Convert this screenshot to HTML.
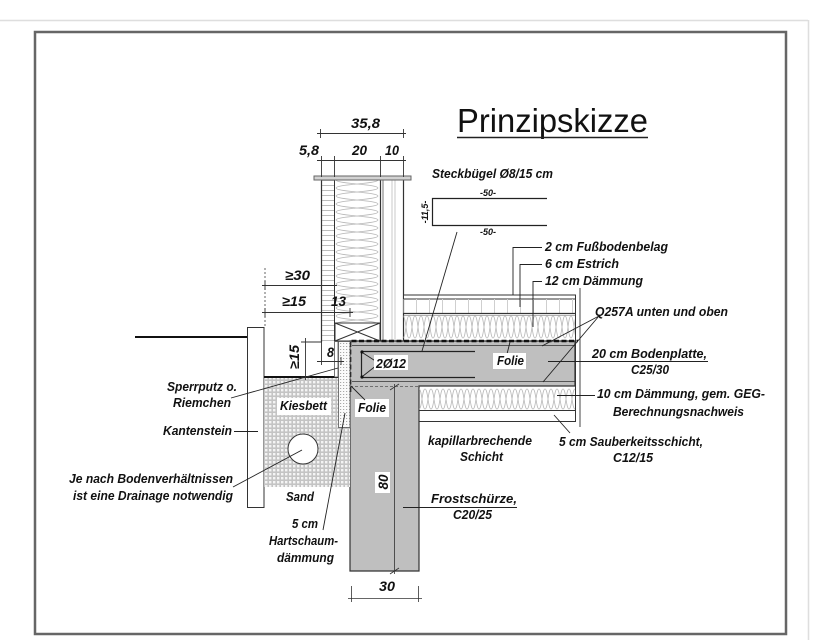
<!DOCTYPE html>
<html><head><meta charset="utf-8">
<style>
html,body{margin:0;padding:0;background:#fff;}
svg{display:block;}
text{font-family:"Liberation Sans",Arial,sans-serif;fill:#111;}
.l{font-weight:bold;font-style:italic;font-size:13px;}
.d{font-weight:bold;font-style:italic;font-size:14px;}
.s{font-weight:bold;font-style:italic;font-size:9px;}
</style></head><body>
<svg width="830" height="640" viewBox="0 0 830 640" xmlns="http://www.w3.org/2000/svg">
<defs>
 <pattern id="wins" patternUnits="userSpaceOnUse" x="334" y="180" width="46" height="16">
  <path d="M2 0 C2 4 44 4 44 8 C44 12 2 12 2 16 M44 0 C44 4 2 4 2 8 C2 12 44 12 44 16" fill="none" stroke="#b8b8b8" stroke-width="0.8"/>
 </pattern>
 <pattern id="fins1" patternUnits="userSpaceOnUse" x="403" y="315" width="12" height="24">
  <path d="M0 1 C3 1 3 23 6 23 C9 23 9 1 12 1 M0 23 C3 23 3 1 6 1 C9 1 9 23 12 23" fill="none" stroke="#b8b8b8" stroke-width="0.8"/>
 </pattern>
 <pattern id="fins2" patternUnits="userSpaceOnUse" x="419" y="388" width="12" height="22">
  <path d="M0 1 C3 1 3 21 6 21 C9 21 9 1 12 1 M0 21 C3 21 3 1 6 1 C9 1 9 21 12 21" fill="none" stroke="#b8b8b8" stroke-width="0.8"/>
 </pattern>
 <pattern id="kies" patternUnits="userSpaceOnUse" x="0" y="0" width="4" height="4">
  <rect width="4" height="4" fill="#c4c4c4"/><rect x="1" y="1" width="2.4" height="2.4" fill="#f4f4f4"/>
 </pattern>
 <pattern id="hs" patternUnits="userSpaceOnUse" x="0" y="0" width="3" height="3">
  <rect width="3" height="3" fill="#fafafa"/><rect x="1" y="1" width="1.2" height="1" fill="#a8a8a8"/>
 </pattern>
 <pattern id="estr" patternUnits="userSpaceOnUse" x="403" y="0" width="13" height="10">
  <line x1="0.5" y1="0" x2="0.5" y2="10" stroke="#cfcfcf" stroke-width="1"/>
 </pattern>
 <pattern id="brick" patternUnits="userSpaceOnUse" x="0" y="180" width="10" height="5">
  <line x1="0" y1="0.5" x2="10" y2="0.5" stroke="#bdbdbd" stroke-width="1"/>
 </pattern>
</defs>

<!-- page chrome -->
<line x1="0" y1="20.5" x2="808" y2="20.5" stroke="#dedede" stroke-width="1.5"/>
<line x1="808.5" y1="20" x2="808.5" y2="640" stroke="#dedede" stroke-width="1.5"/>
<rect x="35" y="32" width="751" height="602" fill="none" stroke="#666" stroke-width="2.5"/>

<!-- title -->
<text x="457" y="132" font-size="33" textLength="191" lengthAdjust="spacingAndGlyphs">Prinzipskizze</text>
<line x1="457" y1="137.5" x2="648" y2="137.5" stroke="#222" stroke-width="1.6"/>

<!-- WALL -->
<rect x="321" y="180" width="13" height="162" fill="url(#brick)"/>
<rect x="334" y="180" width="46" height="143" fill="url(#wins)"/>
<line x1="321.5" y1="180" x2="321.5" y2="342" stroke="#333" stroke-width="1.2"/>
<line x1="334.5" y1="180" x2="334.5" y2="341" stroke="#333" stroke-width="1"/>
<rect x="335" y="323" width="45" height="18" fill="#fff" stroke="#333" stroke-width="1"/>
<path d="M335 323 L380 341 M380 323 L335 341" stroke="#333" stroke-width="1"/>
<line x1="380.5" y1="180" x2="380.5" y2="341" stroke="#333" stroke-width="1.2"/>
<line x1="383" y1="180" x2="383" y2="341" stroke="#555" stroke-width="0.8"/>
<line x1="392" y1="180" x2="392" y2="341" stroke="#bbb" stroke-width="0.8"/>
<line x1="395" y1="180" x2="395" y2="341" stroke="#bbb" stroke-width="0.8"/>
<line x1="403.5" y1="180" x2="403.5" y2="341" stroke="#333" stroke-width="1.2"/>
<rect x="314" y="176" width="97" height="4" fill="#d2d2d2" stroke="#666" stroke-width="1"/>

<!-- FLOOR LAYERS -->
<rect x="403.5" y="295" width="172" height="4" fill="#fff" stroke="#333" stroke-width="1"/>
<rect x="403.5" y="299" width="172" height="14" fill="url(#estr)"/>
<line x1="403" y1="313.5" x2="576" y2="313.5" stroke="#333" stroke-width="1.2"/>
<rect x="403.5" y="315" width="172" height="24" fill="url(#fins1)"/>
<line x1="403" y1="315.5" x2="576" y2="315.5" stroke="#666" stroke-width="0.6"/>

<!-- SLAB + APRON -->
<path d="M350 341 H575 V386 H419 V571 H350 Z" fill="#bfbfbf" stroke="#333" stroke-width="1.2"/>
<line x1="352" y1="345.5" x2="575" y2="345.5" stroke="#333" stroke-width="0.8"/>
<line x1="352" y1="381.5" x2="575" y2="381.5" stroke="#333" stroke-width="0.8"/>
<line x1="350" y1="386.5" x2="419" y2="386.5" stroke="#555" stroke-width="0.8" stroke-dasharray="3 2"/>
<path d="M475 351.5 H361.5 V377.5 H475" fill="none" stroke="#222" stroke-width="1.2"/>
<circle cx="362" cy="352" r="1.6" fill="#111"/><circle cx="362" cy="377" r="1.6" fill="#111"/>
<path d="M363 353 L377 362 M363 376 L377 365" stroke="#222" stroke-width="0.9"/>
<rect x="374" y="355" width="34" height="15" fill="#fff"/>
<text class="l" x="376" y="368" textLength="30" lengthAdjust="spacingAndGlyphs">2Ø12</text>
<path d="M350 392 V341 H578" fill="none" stroke="#111" stroke-width="2.6" stroke-dasharray="5 2.5"/>

<!-- under slab -->
<rect x="419" y="388" width="156" height="22" fill="url(#fins2)"/>
<line x1="419" y1="410.5" x2="576" y2="410.5" stroke="#333" stroke-width="1"/>
<line x1="419" y1="421.5" x2="576" y2="421.5" stroke="#333" stroke-width="1"/>
<line x1="575.5" y1="295" x2="575.5" y2="422" stroke="#333" stroke-width="1"/>
<line x1="580" y1="288" x2="580" y2="427" stroke="#444" stroke-width="1"/>

<!-- slab folie label -->
<line x1="510" y1="342" x2="507" y2="354" stroke="#222" stroke-width="0.9"/>
<rect x="493" y="353" width="33" height="16" fill="#fff"/>
<text class="l" x="497" y="365" textLength="27" lengthAdjust="spacingAndGlyphs">Folie</text>

<!-- 80 dimension -->
<line x1="394.5" y1="384" x2="394.5" y2="574" stroke="#333" stroke-width="0.8"/>
<path d="M390 390 L399 384 M390 574 L399 568" stroke="#333" stroke-width="0.8"/>
<rect x="375" y="472" width="15" height="21" fill="#fff"/>
<text class="d" transform="translate(388,482) rotate(-90)" text-anchor="middle" textLength="15" lengthAdjust="spacingAndGlyphs">80</text>

<!-- 30 dimension -->
<line x1="348" y1="598.5" x2="422" y2="598.5" stroke="#333" stroke-width="0.8"/>
<line x1="351.5" y1="586" x2="351.5" y2="602" stroke="#333" stroke-width="0.8"/>
<line x1="418.5" y1="586" x2="418.5" y2="602" stroke="#333" stroke-width="0.8"/>
<text class="d" x="379" y="591" textLength="16" lengthAdjust="spacingAndGlyphs">30</text>

<!-- LEFT SIDE -->
<line x1="135" y1="337" x2="247" y2="337" stroke="#111" stroke-width="2"/>
<rect x="247.5" y="327.5" width="16.5" height="180" fill="#fff" stroke="#333" stroke-width="1"/>
<rect x="264" y="377" width="86" height="110" fill="url(#kies)"/>
<line x1="264" y1="377" x2="339" y2="377" stroke="#111" stroke-width="2"/>
<rect x="334.5" y="341.5" width="3.5" height="35.5" fill="#fff" stroke="#555" stroke-width="0.8"/>
<rect x="338.5" y="341.5" width="11.5" height="86" fill="url(#hs)" stroke="#555" stroke-width="0.8"/>
<circle cx="303" cy="449" r="15" fill="#fff" stroke="#333" stroke-width="1"/>
<rect x="277" y="398" width="54" height="17" fill="#fff"/>
<text class="l" x="280" y="410" textLength="47" lengthAdjust="spacingAndGlyphs">Kiesbett</text>
<rect x="355" y="399" width="34" height="18" fill="#fff"/>
<text class="l" x="358" y="412" textLength="28" lengthAdjust="spacingAndGlyphs">Folie</text>
<line x1="351" y1="386" x2="365" y2="400" stroke="#222" stroke-width="0.9"/>

<!-- leaders left -->
<line x1="231" y1="398" x2="338" y2="368" stroke="#222" stroke-width="0.9"/>
<line x1="234" y1="431.5" x2="258" y2="431.5" stroke="#222" stroke-width="0.9"/>
<line x1="233" y1="487" x2="302" y2="450" stroke="#222" stroke-width="0.9"/>
<line x1="323" y1="530" x2="345" y2="413" stroke="#222" stroke-width="0.9"/>

<!-- left labels -->
<text class="l" x="167" y="391" textLength="70" lengthAdjust="spacingAndGlyphs">Sperrputz o.</text>
<text class="l" x="173" y="407" textLength="58" lengthAdjust="spacingAndGlyphs">Riemchen</text>
<text class="l" x="163" y="435" textLength="69" lengthAdjust="spacingAndGlyphs">Kantenstein</text>
<text class="l" x="69" y="483" textLength="164" lengthAdjust="spacingAndGlyphs">Je nach Bodenverhältnissen</text>
<text class="l" x="73" y="500" textLength="160" lengthAdjust="spacingAndGlyphs">ist eine Drainage notwendig</text>
<text class="l" x="286" y="501" textLength="28" lengthAdjust="spacingAndGlyphs">Sand</text>
<text class="l" x="292" y="528" textLength="26" lengthAdjust="spacingAndGlyphs">5 cm</text>
<text class="l" x="269" y="545" textLength="69" lengthAdjust="spacingAndGlyphs">Hartschaum-</text>
<text class="l" x="277" y="562" textLength="57" lengthAdjust="spacingAndGlyphs">dämmung</text>

<!-- TOP DIMENSIONS -->
<line x1="317" y1="133.5" x2="406" y2="133.5" stroke="#333" stroke-width="0.9"/>
<line x1="320.5" y1="129" x2="320.5" y2="138" stroke="#333" stroke-width="0.9"/>
<line x1="403.5" y1="129" x2="403.5" y2="138" stroke="#333" stroke-width="0.9"/>
<text class="d" x="351" y="128" textLength="29" lengthAdjust="spacingAndGlyphs">35,8</text>
<line x1="317" y1="160.5" x2="406" y2="160.5" stroke="#333" stroke-width="0.9"/>
<line x1="321.5" y1="156" x2="321.5" y2="177" stroke="#333" stroke-width="0.9"/>
<line x1="334.5" y1="156" x2="334.5" y2="177" stroke="#333" stroke-width="0.9"/>
<line x1="380.5" y1="156" x2="380.5" y2="177" stroke="#333" stroke-width="0.9"/>
<line x1="403.5" y1="156" x2="403.5" y2="177" stroke="#333" stroke-width="0.9"/>
<text class="d" x="299" y="155" textLength="20" lengthAdjust="spacingAndGlyphs">5,8</text>
<text class="d" x="352" y="155" textLength="15" lengthAdjust="spacingAndGlyphs">20</text>
<text class="d" x="385" y="155" textLength="14" lengthAdjust="spacingAndGlyphs">10</text>

<!-- left dimensions -->
<line x1="265" y1="268" x2="265" y2="327" stroke="#555" stroke-width="0.9" stroke-dasharray="2 2"/>
<line x1="262" y1="285.5" x2="337" y2="285.5" stroke="#333" stroke-width="0.9"/>
<line x1="265" y1="281" x2="265" y2="290" stroke="#333" stroke-width="0.9"/>
<line x1="334.5" y1="281" x2="334.5" y2="290" stroke="#333" stroke-width="0.9"/>
<text class="d" x="285" y="280" textLength="25" lengthAdjust="spacingAndGlyphs">≥30</text>
<line x1="262" y1="312.5" x2="353" y2="312.5" stroke="#333" stroke-width="0.9"/>
<line x1="265" y1="308" x2="265" y2="317" stroke="#333" stroke-width="0.9"/>
<line x1="321.5" y1="308" x2="321.5" y2="317" stroke="#333" stroke-width="0.9"/>
<line x1="350" y1="308" x2="350" y2="317" stroke="#333" stroke-width="0.9"/>
<text class="d" x="282" y="306" textLength="24" lengthAdjust="spacingAndGlyphs">≥15</text>
<text class="d" x="331" y="306" textLength="15" lengthAdjust="spacingAndGlyphs">13</text>
<line x1="301" y1="342" x2="322" y2="342" stroke="#333" stroke-width="0.9"/>
<line x1="305.5" y1="338" x2="305.5" y2="380" stroke="#333" stroke-width="0.9"/>
<line x1="301" y1="377" x2="310" y2="377" stroke="#333" stroke-width="0.9"/>
<text class="d" transform="translate(299,357) rotate(-90)" text-anchor="middle" textLength="24" lengthAdjust="spacingAndGlyphs">≥15</text>
<line x1="317" y1="361.5" x2="344" y2="361.5" stroke="#333" stroke-width="0.9"/>
<line x1="321.5" y1="342" x2="321.5" y2="365" stroke="#333" stroke-width="0.9"/>
<line x1="341" y1="357" x2="341" y2="365" stroke="#333" stroke-width="0.9"/>
<text class="d" x="327" y="357" textLength="7" lengthAdjust="spacingAndGlyphs">8</text>

<!-- STECKBÜGEL -->
<text class="l" x="432" y="178" textLength="121" lengthAdjust="spacingAndGlyphs">Steckbügel Ø8/15 cm</text>
<path d="M547 198.5 H432.5 V225.5 H547" fill="none" stroke="#222" stroke-width="1.2"/>
<text class="s" x="488" y="196" text-anchor="middle">-50-</text>
<text class="s" x="488" y="235" text-anchor="middle">-50-</text>
<text class="s" transform="translate(428,212) rotate(-90)" text-anchor="middle">-11,5-</text>
<line x1="457" y1="232" x2="422" y2="351" stroke="#222" stroke-width="0.9"/>

<!-- right leaders -->
<path d="M513 295 V247.5 H542" fill="none" stroke="#222" stroke-width="0.9"/>
<path d="M520 307 V264.5 H542" fill="none" stroke="#222" stroke-width="0.9"/>
<path d="M533 327 V281.5 H542" fill="none" stroke="#222" stroke-width="0.9"/>
<path d="M599 316 L542 346 M599 316 L543 382" fill="none" stroke="#222" stroke-width="0.9"/>
<line x1="548" y1="361.5" x2="708" y2="361.5" stroke="#222" stroke-width="0.9"/>
<line x1="557" y1="395.5" x2="595" y2="395.5" stroke="#222" stroke-width="0.9"/>
<line x1="554" y1="415" x2="570" y2="433" stroke="#222" stroke-width="0.9"/>
<line x1="403" y1="507.5" x2="517" y2="507.5" stroke="#222" stroke-width="0.9"/>

<!-- right labels -->
<text class="l" x="545" y="251" textLength="123" lengthAdjust="spacingAndGlyphs">2 cm Fußbodenbelag</text>
<text class="l" x="545" y="268" textLength="74" lengthAdjust="spacingAndGlyphs">6 cm Estrich</text>
<text class="l" x="545" y="285" textLength="98" lengthAdjust="spacingAndGlyphs">12 cm Dämmung</text>
<text class="l" x="595" y="316" textLength="133" lengthAdjust="spacingAndGlyphs">Q257A unten und oben</text>
<text class="l" x="592" y="358" textLength="115" lengthAdjust="spacingAndGlyphs">20 cm Bodenplatte,</text>
<text class="l" x="631" y="374" textLength="38" lengthAdjust="spacingAndGlyphs">C25/30</text>
<text class="l" x="597" y="398" textLength="168" lengthAdjust="spacingAndGlyphs">10 cm Dämmung, gem. GEG-</text>
<text class="l" x="613" y="416" textLength="131" lengthAdjust="spacingAndGlyphs">Berechnungsnachweis</text>
<text class="l" x="559" y="446" textLength="144" lengthAdjust="spacingAndGlyphs">5 cm Sauberkeitsschicht,</text>
<text class="l" x="613" y="462" textLength="40" lengthAdjust="spacingAndGlyphs">C12/15</text>
<text class="l" x="428" y="445" textLength="104" lengthAdjust="spacingAndGlyphs">kapillarbrechende</text>
<text class="l" x="460" y="461" textLength="43" lengthAdjust="spacingAndGlyphs">Schicht</text>
<text class="l" x="431" y="503" textLength="86" lengthAdjust="spacingAndGlyphs">Frostschürze,</text>
<text class="l" x="453" y="519" textLength="39" lengthAdjust="spacingAndGlyphs">C20/25</text>
</svg>
</body></html>
